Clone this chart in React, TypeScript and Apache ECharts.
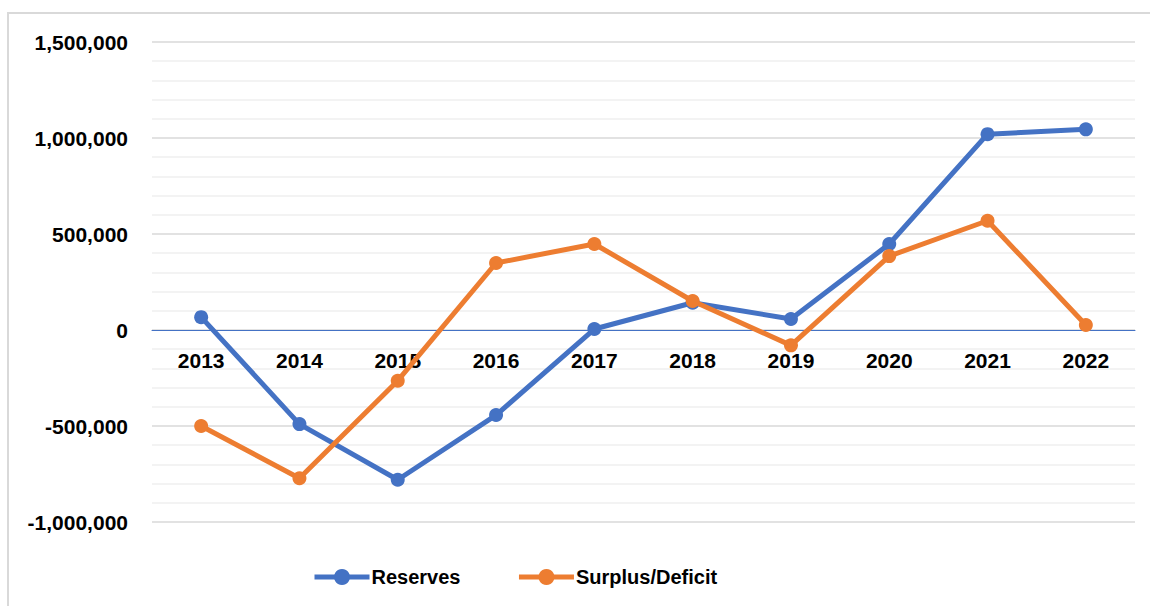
import React, { useEffect, useRef } from "react";
import * as echarts from "echarts";

const years = ["2013", "2014", "2015", "2016", "2017", "2018", "2019", "2020", "2021", "2022"];
const reserves = [67000, -490000, -780000, -443000, 5000, 142000, 57000, 448000, 1020000, 1045000];
const surplusDeficit = [-500000, -772000, -264000, 349000, 448000, 151000, -80000, 385000, 569000, 26000];
const seriesNames = ["Reserves", "Surplus/Deficit"];
const colors = ["#4472C4", "#ED7D31"];

const FONT = "'Liberation Sans', Arial, sans-serif";

export default function App() {
  const ref = useRef<HTMLDivElement>(null);
  useEffect(() => {
    if (!ref.current) return;
    const chart = echarts.init(ref.current, null, { renderer: "svg" });
    chart.setOption({
      animation: false,
      backgroundColor: "#ffffff",
      textStyle: { fontFamily: FONT },
      grid: { left: 152, right: 15, top: 42, bottom: 84, containLabel: false },
      legend: {
        left: 312,
        top: 567,
        padding: 0,
        itemWidth: 55,
        itemHeight: 20,
        itemGap: 56,
        lineStyle: { width: 5 },
        textStyle: { fontFamily: FONT, fontSize: 20, fontWeight: "bold", color: "#000", padding: [0, 0, 0, -3] },
        data: seriesNames,
      },
      xAxis: {
        type: "category",
        data: years,
        boundaryGap: true,
        position: "bottom",
        offset: -192,
        axisLine: { onZero: false, lineStyle: { color: "#4472C4", width: 1 } },
        axisTick: { show: false },
        axisLabel: { margin: 20, fontFamily: FONT, fontSize: 21, fontWeight: "bold", color: "#000" },
        splitLine: { show: false },
        z: 3,
      },
      yAxis: {
        type: "value",
        min: -1000000,
        max: 1500000,
        interval: 500000,
        axisLine: { show: false },
        axisTick: { show: false },
        axisLabel: {
          margin: 24,
          fontFamily: FONT,
          fontSize: 21,
          fontWeight: "bold",
          color: "#000",
          formatter: (v: number) => v.toLocaleString("en-US"),
        },
        splitLine: { show: true, lineStyle: { color: "#d9d9d9", width: 1.5 } },
        minorTick: { show: false, splitNumber: 5 },
        minorSplitLine: { show: true, lineStyle: { color: "#efefef", width: 1.5 } },
      },
      series: [
        {
          name: seriesNames[0],
          type: "line",
          data: reserves,
          color: colors[0],
          lineStyle: { width: 5, color: colors[0] },
          symbol: "circle",
          symbolSize: 14,
          itemStyle: { color: colors[0] },
          z: 5,
        },
        {
          name: seriesNames[1],
          type: "line",
          data: surplusDeficit,
          color: colors[1],
          lineStyle: { width: 5, color: colors[1] },
          symbol: "circle",
          symbolSize: 14,
          itemStyle: { color: colors[1] },
          z: 6,
        },
      ],
      graphic: [
        { type: "line", shape: { x1: 8, y1: 12, x2: 8, y2: 606 }, style: { stroke: "#d9d9d9", lineWidth: 2 } },
        { type: "line", shape: { x1: 7, y1: 13, x2: 1150, y2: 13 }, style: { stroke: "#d9d9d9", lineWidth: 2 } },
      ],
    });
    return () => chart.dispose();
  }, []);
  return (
    <div style={{ position: "fixed", left: 0, top: 0, width: 1150, height: 606, background: "#fff" }}>
      <div ref={ref} style={{ width: 1150, height: 606 }} />
    </div>
  );
}
